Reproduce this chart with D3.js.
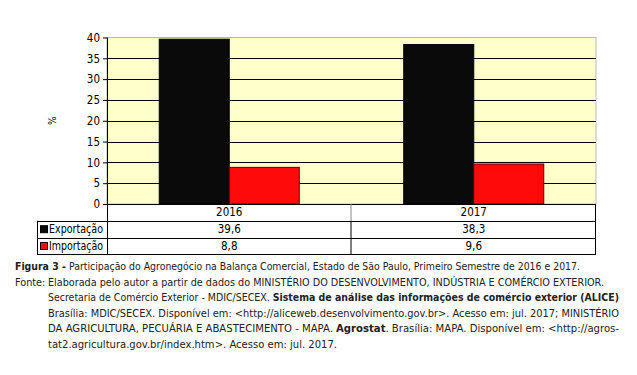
<!DOCTYPE html>
<html>
<head>
<meta charset="utf-8">
<script src="https://cdn.jsdelivr.net/npm/d3@7"></script>
<style>
  body { margin: 0; background: #fff; }
  svg { display: block; font-family: "DejaVu Sans Condensed", "DejaVu Sans", sans-serif; }
</style>
</head>
<body>
<svg id="chart" width="637" height="375"></svg>
<script>
const years = ['2016', '2017'];
const series = ['Exportação', 'Importação'];
const exportacao = [39.6, 38.3];
const importacao = [8.8, 9.6];
const yTicks = [0, 5, 10, 15, 20, 25, 30, 35, 40];

const seriesColors = {
  'Exportação': '#0a0a0a',
  'Importação': '#ff0a0a'
};

// caption lines: x, fitted width, text parts [text, bold]
const captionLines = [
  { x: 15, w: 565, parts: [['Figura 3 - ', true], ['Participação do Agronegócio na Balança Comercial, Estado de São Paulo, Primeiro Semestre de 2016 e 2017.', false]] },
  { x: 48, w: 556, parts: [['Elaborada pelo autor a partir de dados do MINISTÉRIO DO DESENVOLVIMENTO, INDÚSTRIA E COMÉRCIO EXTERIOR.', false]] },
  { x: 48, w: 571, parts: [['Secretaria de Comércio Exterior - MDIC/SECEX. ', false], ['Sistema de análise das informações de comércio exterior (ALICE)', true]] },
  { x: 48, w: 571, parts: [['Brasília: MDIC/SECEX. Disponível em: <http://aliceweb.desenvolvimento.gov.br>. Acesso em: jul. 2017; MINISTÉRIO', false]] },
  { x: 48, w: 571, parts: [['DA AGRICULTURA, PECUÁRIA E ABASTECIMENTO - MAPA. ', false], ['Agrostat', true], ['. Brasília: MAPA. Disponível em: <http://agros-', false]] },
  { x: 48, w: 289, parts: [['tat2.agricultura.gov.br/index.htm>. Acesso em: jul. 2017.', false]] }
];

d3.formatDefaultLocale({ decimal: ',', thousands: '.', grouping: [3], currency: ['R$', ''] });
const fmt = d3.format('.1f');

const svg = d3.select('#chart');
const plotLeft = 107, plotRight = 596, plotTop = 37.5, plotBottom = 204;
const legendLeft = 37;
const rowH = 16.8;

const x = d3.scaleBand().domain(years).range([plotLeft, plotRight]);
const xSub = d3.scaleBand().domain(series).range([0, x.bandwidth()]).paddingOuter(0.746);
const y = d3.scaleLinear().domain([0, 40]).range([plotBottom, plotTop]);

const values = { 'Exportação': exportacao, 'Importação': importacao };

// plot background
svg.append('rect')
  .attr('x', plotLeft).attr('y', plotTop)
  .attr('width', plotRight - plotLeft).attr('height', plotBottom - plotTop)
  .attr('fill', '#ffffcc')
  .attr('stroke', '#b8b8b8');

// gridlines
svg.append('g')
  .selectAll('line')
  .data(yTicks.filter(d => d > 0 && d < 40))
  .enter()
  .append('line')
  .attr('x1', plotLeft).attr('x2', plotRight)
  .attr('y1', d => Math.round(y(d)) + 0.5).attr('y2', d => Math.round(y(d)) + 0.5)
  .attr('stroke', '#000');

// bars
const bars = [];
years.forEach((yr, i) => {
  series.forEach(s => bars.push({ year: yr, series: s, value: values[s][i] }));
});
svg.append('g')
  .selectAll('rect')
  .data(bars)
  .enter()
  .append('rect')
  .attr('x', d => x(d.year) + xSub(d.series))
  .attr('y', d => y(d.value))
  .attr('width', xSub.bandwidth())
  .attr('height', d => y(0) - y(d.value))
  .attr('fill', d => seriesColors[d.series])
  .attr('stroke', d => d.series === 'Importação' ? '#5a0000' : '#000')
  .attr('stroke-width', 1);

// y axis
const yAxis = svg.append('g')
  .attr('transform', `translate(${plotLeft},0)`)
  .call(d3.axisLeft(y).tickValues(yTicks).tickSize(4).tickPadding(3).tickFormat(d3.format('d')));
yAxis.select('.domain').remove();
yAxis.selectAll('text').attr('font-size', 11.5).attr('fill', '#000')
  .attr('font-family', '"DejaVu Sans Condensed", sans-serif');
yAxis.selectAll('line').attr('stroke', '#000');

svg.append('line')
  .attr('x1', plotLeft + 0.5).attr('x2', plotLeft + 0.5)
  .attr('y1', plotTop).attr('y2', plotBottom + rowH * 3)
  .attr('stroke', '#000');

svg.append('text')
  .attr('transform', `translate(56,${(plotTop + plotBottom) / 2}) rotate(-90)`)
  .attr('text-anchor', 'middle')
  .attr('font-size', 10)
  .text('%');

// data table
const table = svg.append('g');
const hl = (y0, x1, x2, c) => table.append('line')
  .attr('x1', x1).attr('x2', x2).attr('y1', y0).attr('y2', y0).attr('stroke', c);
const vl = (x0, y1, y2, c) => table.append('line')
  .attr('x1', x0).attr('x2', x0).attr('y1', y1).attr('y2', y2).attr('stroke', c);

hl(plotBottom + 0.5, plotLeft, plotRight, '#000');
hl(Math.round(plotBottom + rowH) + 0.5, legendLeft, plotRight, '#000');
hl(Math.round(plotBottom + rowH * 2) + 0.5, legendLeft, plotRight, '#000');
hl(Math.round(plotBottom + rowH * 3) + 0.5, legendLeft, plotRight, '#000');
vl(legendLeft + 0.5, plotBottom + rowH, plotBottom + rowH * 3, '#000');
vl(plotRight - 0.5, plotBottom, plotBottom + rowH * 3, '#000');
vl(x(years[1]) - 0.5, plotBottom, plotBottom + rowH, '#888');
vl(x(years[1]) - 0.5, plotBottom + rowH, plotBottom + rowH * 3, '#000');

table.selectAll('text.year')
  .data(years)
  .enter()
  .append('text')
  .attr('x', d => x(d) + x.bandwidth() / 2)
  .attr('y', plotBottom + rowH / 2 + 4)
  .attr('text-anchor', 'middle')
  .attr('font-size', 11.5)
  .text(d => d);

series.forEach((s, r) => {
  const cy = plotBottom + rowH * (r + 1) + rowH / 2;
  table.append('rect')
    .attr('x', 40.5).attr('y', cy - 3.5)
    .attr('width', 7).attr('height', 7)
    .attr('fill', seriesColors[s])
    .attr('stroke', '#000');
  table.append('text')
    .attr('x', 49).attr('y', cy + 4)
    .attr('font-size', 11.5)
    .attr('textLength', 54)
    .attr('lengthAdjust', 'spacingAndGlyphs')
    .text(s);
  table.selectAll(null)
    .data(values[s])
    .enter()
    .append('text')
    .attr('x', (d, i) => x(years[i]) + x.bandwidth() / 2)
    .attr('y', cy + 4)
    .attr('text-anchor', 'middle')
    .attr('font-size', 11.5)
    .text(d => fmt(d));
});

// caption
const cap = svg.append('g').attr('font-size', 10.8).attr('fill', '#222');
const lineY0 = 270, lineStep = 15.5;
captionLines.forEach((ln, i) => {
  const t = cap.append('text')
    .attr('x', ln.x)
    .attr('y', lineY0 + i * lineStep)
    .attr('textLength', ln.w)
    .attr('lengthAdjust', 'spacingAndGlyphs');
  ln.parts.forEach(p => {
    t.append('tspan')
      .attr('font-weight', p[1] ? 'bold' : null)
      .text(p[0]);
  });
});
cap.append('text')
  .attr('x', 15)
  .attr('y', lineY0 + lineStep)
  .text('Fonte:');
</script>
</body>
</html>
